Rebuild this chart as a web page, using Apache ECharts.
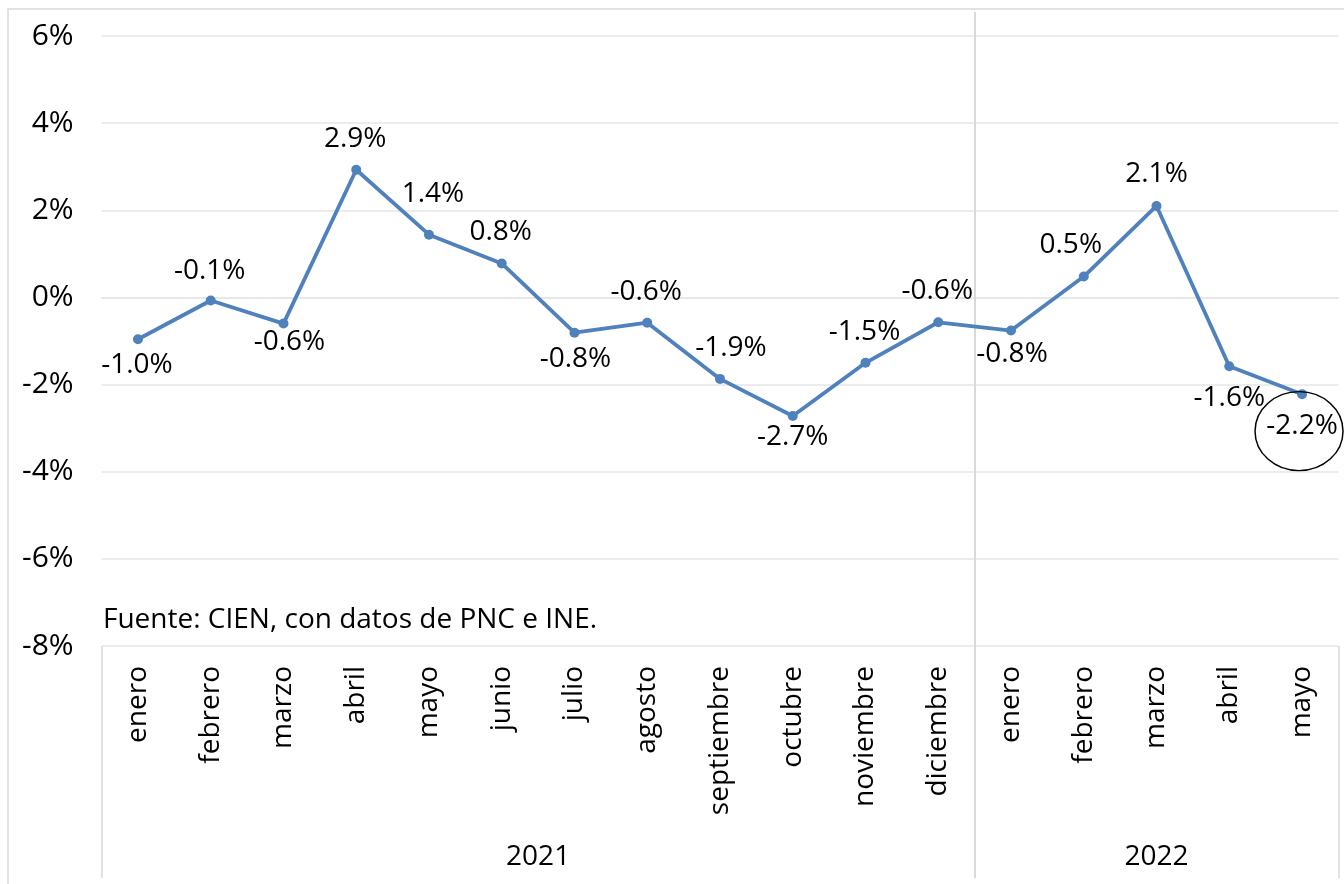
<!DOCTYPE html>
<html>
<head>
<meta charset="utf-8">
<script src="https://cdn.jsdelivr.net/npm/echarts@6/dist/echarts.min.js"></script>
<style>
html,body{margin:0;padding:0;background:#ffffff;}
#chart{width:1344px;height:884px;}
</style>
</head>
<body>
<div id="chart"></div>
<script>
// ---- data ----
const months = ['enero','febrero','marzo','abril','mayo','junio','julio','agosto','septiembre','octubre','noviembre','diciembre','enero','febrero','marzo','abril','mayo'];
const years = ['2021','2022'];
const yearSpans = [12, 5];
const values = [-0.96, -0.07, -0.60, 2.93, 1.44, 0.78, -0.81, -0.58, -1.87, -2.72, -1.50, -0.57, -0.76, 0.48, 2.10, -1.58, -2.22];
const yTicks = [-8, -6, -4, -2, 0, 2, 4, 6];
const sourceNote = 'Fuente: CIEN, con datos de PNC e INE.';

// ---- label placement (style) ----
const labelOffsets = [[-1,26],[-1,-29],[6,18],[-1,-31],[4,-41],[-1,-31],[1,26],[-1,-31],[11,-31],[0,21],[-1,-31],[-1,-31],[1,23],[-13,-31],[0,-32],[0,32],[0,32]];

const FONT = '"Open Sans", "Noto Sans", sans-serif';

// year boundaries & centers derived from spans
const boundaries = [0];
yearSpans.forEach(s => boundaries.push(boundaries[boundaries.length - 1] + s));
const yearCenters = yearSpans.map((s, i) => boundaries[i] + s / 2);
const innerBoundaries = boundaries.slice(1, -1);
const outerBoundaries = [boundaries[0], boundaries[boundaries.length - 1]];

const chart = echarts.init(document.getElementById('chart'), null, {renderer: 'canvas'});

const option = {
  backgroundColor: '#ffffff',
  animation: false,
  title: {
    text: sourceNote,
    left: 98,
    top: 601,
    textStyle: {fontFamily: FONT, fontSize: 28, fontWeight: 'normal', color: '#000'}
  },
  graphic: [{
    type: 'rect',
    shape: {x: 8, y: 9, width: 1400, height: 900},
    style: {fill: 'none', stroke: '#d9d9d9', lineWidth: 1.5},
    silent: true, z: -1
  }],
  grid: {left: 101.6, right: 5.6, top: 36, bottom: 238, containLabel: false, outerBoundsMode: 'none'},
  xAxis: [{
    type: 'category',
    data: months,
    boundaryGap: true,
    axisLine: {show: true, lineStyle: {color: '#e6e6e6', width: 1.5}},
    axisTick: {show: false},
    axisLabel: {rotate: 90, margin: 20, fontFamily: FONT, fontSize: 28, color: '#000', interval: 0},
    splitLine: {show: false}
  }, {
    type: 'value',
    min: 0, max: months.length,
    position: 'bottom',
    offset: 232,
    axisLine: {show: false},
    axisTick: {show: true, inside: true, length: 232, customValues: outerBoundaries, lineStyle: {color: '#d9d9d9', width: 1.5}},
    axisLabel: {show: true, inside: true, margin: 7, customValues: yearCenters,
      formatter: v => years[yearCenters.indexOf(v)] || '',
      fontFamily: FONT, fontSize: 28, color: '#000'},
    splitLine: {show: false}
  }, {
    type: 'value',
    min: 0, max: months.length,
    position: 'bottom',
    offset: 232,
    axisLine: {show: false},
    axisTick: {show: true, inside: true, length: 866, customValues: innerBoundaries, lineStyle: {color: '#d9d9d9', width: 2}},
    axisLabel: {show: false},
    splitLine: {show: false}
  }],
  yAxis: {
    type: 'value',
    min: yTicks[0], max: yTicks[yTicks.length - 1], interval: 2,
    axisLine: {show: false},
    axisTick: {show: false},
    axisLabel: {margin: 28, fontFamily: FONT, fontSize: 30, color: '#000', formatter: v => v + '%'},
    splitLine: {show: true, lineStyle: {color: '#e6e6e6', width: 1.5}}
  },
  series: [{
    type: 'line',
    xAxisIndex: 0,
    yAxisIndex: 0,
    data: values.map((v, i) => ({value: v, label: {offset: labelOffsets[i]}})),
    symbol: 'circle',
    symbolSize: 10,
    lineStyle: {color: '#4F81BD', width: 3.8},
    itemStyle: {color: '#4F81BD'},
    label: {
      show: true, position: 'inside',
      fontFamily: FONT, fontSize: 28, color: '#000',
      formatter: p => p.value.toFixed(1) + '%'
    },
    markPoint: {
      symbol: 'path://M0,50 A50,50 0 1,1 100,50 A50,50 0 1,1 0,50 Z',
      symbolSize: [88, 79],
      symbolOffset: [-3, 37],
      silent: true,
      itemStyle: {color: 'rgba(0,0,0,0)', borderColor: '#000', borderWidth: 1.4},
      label: {show: false},
      data: [{coord: [months.length - 1, values[values.length - 1]]}]
    },
    z: 3
  }]
};

chart.setOption(option);
</script>
</body>
</html>
